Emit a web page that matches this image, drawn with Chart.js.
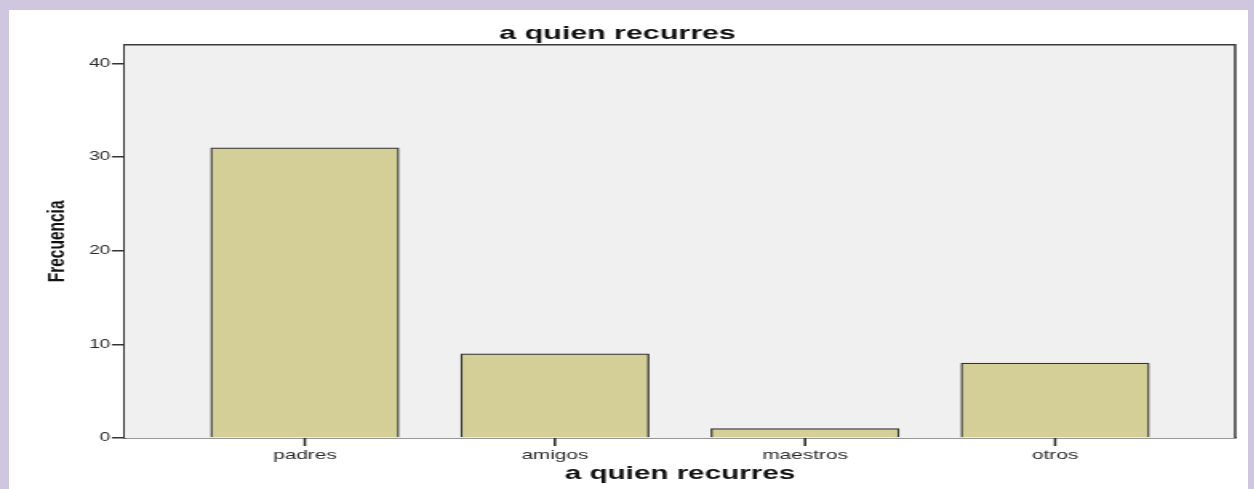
<!DOCTYPE html>
<html>
<head>
<meta charset="utf-8">
<script src="https://cdn.jsdelivr.net/npm/chart.js@4.4.1/dist/chart.umd.min.js"></script>
<style>
  html, body { margin: 0; padding: 0; }
  body { width: 1254px; height: 489px; background: #cfc6df; position: relative; overflow: hidden; }
  #paper { position: absolute; left: 9px; top: 10px; width: 1239px; height: 479px; background: #ffffff; }
  /* the original graphic is stretched sideways, so the chart is too */
  #wrap { position: absolute; left: 0; top: 0; width: 784px; height: 489px; transform: scaleX(1.6); transform-origin: 0 0; }
</style>
</head>
<body>
<div id="paper"></div>
<div id="wrap"><canvas id="chart"></canvas></div>
<script>
const categories = ['padres', 'amigos', 'maestros', 'otros'];
const frecuencia = [31, 9, 1, 8];
const yTicks = [0, 10, 20, 30, 40];

// fondo gris del área de gráfico, marco y marcas del eje x
const plotBox = {
    id: 'plotBox',
    beforeDatasetsDraw(chart) {
        const { ctx, chartArea: a } = chart;
        ctx.save();
        ctx.fillStyle = '#f0f0f0';
        ctx.fillRect(a.left, a.top, a.right - a.left, a.bottom - a.top);
        ctx.restore();
    },
    afterDraw(chart) {
        const { ctx, chartArea: a } = chart;
        const x = chart.scales.x;
        ctx.save();
        ctx.strokeStyle = '#3a3a3a';
        ctx.lineWidth = 1.5;
        ctx.beginPath();
        ctx.moveTo(a.left, a.top);
        ctx.lineTo(a.right, a.top);
        ctx.lineTo(a.right, a.bottom);
        ctx.stroke();
        ctx.strokeStyle = '#222222';
        ctx.lineWidth = 1.5;
        ctx.beginPath();
        categories.forEach((c, i) => {
            const px = x.getPixelForValue(i);
            ctx.moveTo(px, a.bottom);
            ctx.lineTo(px, a.bottom + 8);
        });
        ctx.stroke();
        ctx.restore();
    }
};

new Chart(document.getElementById('chart'), {
    type: 'bar',
    data: {
        datasets: [{
            label: 'Frecuencia',
            data: frecuencia.map((v, i) => ({ x: i, y: v })),
            backgroundColor: '#d3cf97',
            borderColor: '#333333',
            borderWidth: 1.3,
            barThickness: 117.5
        }]
    },
    options: {
        responsive: true,
        maintainAspectRatio: false,
        animation: false,
        layout: { padding: { left: 0, right: 12, top: 0, bottom: 0 } },
        plugins: {
            legend: { display: false },
            tooltip: { enabled: false },
            title: {
                display: true,
                text: 'a quien recurres',
                color: '#111111',
                font: { family: 'Liberation Sans, Arial, sans-serif', size: 19, weight: 'bold', lineHeight: 1.2 },
                padding: { top: 22, bottom: 0 }
            }
        },
        scales: {
            x: {
                type: 'linear',
                offset: false,
                min: -0.72,
                max: 3.72,
                afterBuildTicks: s => { s.ticks = categories.map((c, i) => ({ value: i })); },
                afterFit: s => { s.height = 51; },
                ticks: {
                    callback: v => categories[v],
                    color: '#2a2a2a',
                    font: { family: 'Liberation Sans, Arial, sans-serif', size: 13 },
                    padding: 2,
                    maxRotation: 0,
                    autoSkip: false
                },
                grid: { display: false },
                border: { display: true, color: '#333333', width: 1.5 },
                title: {
                    display: true,
                    text: 'a quien recurres',
                    color: '#111111',
                    font: { family: 'Liberation Sans, Arial, sans-serif', size: 18.5, weight: 'bold' },
                    padding: { top: 4, bottom: 4 }
                }
            },
            y: {
                min: 0,
                max: 42,
                afterBuildTicks: s => { s.ticks = yTicks.map(v => ({ value: v })); },
                afterFit: s => { s.width = 78; },
                ticks: {
                    color: '#2a2a2a',
                    font: { family: 'Liberation Sans, Arial, sans-serif', size: 12 },
                    padding: 1
                },
                grid: { drawOnChartArea: false, drawTicks: true, tickLength: 8, color: '#333333', lineWidth: 1.5 },
                border: { display: true, color: '#333333', width: 2 },
                title: {
                    display: true,
                    text: 'Frecuencia',
                    color: '#111111',
                    font: { family: 'Liberation Sans, Arial, sans-serif', size: 15.5, weight: 'bold' },
                    padding: { top: 26, bottom: 26 }
                }
            }
        }
    },
    plugins: [plotBox]
});
</script>
</body>
</html>
